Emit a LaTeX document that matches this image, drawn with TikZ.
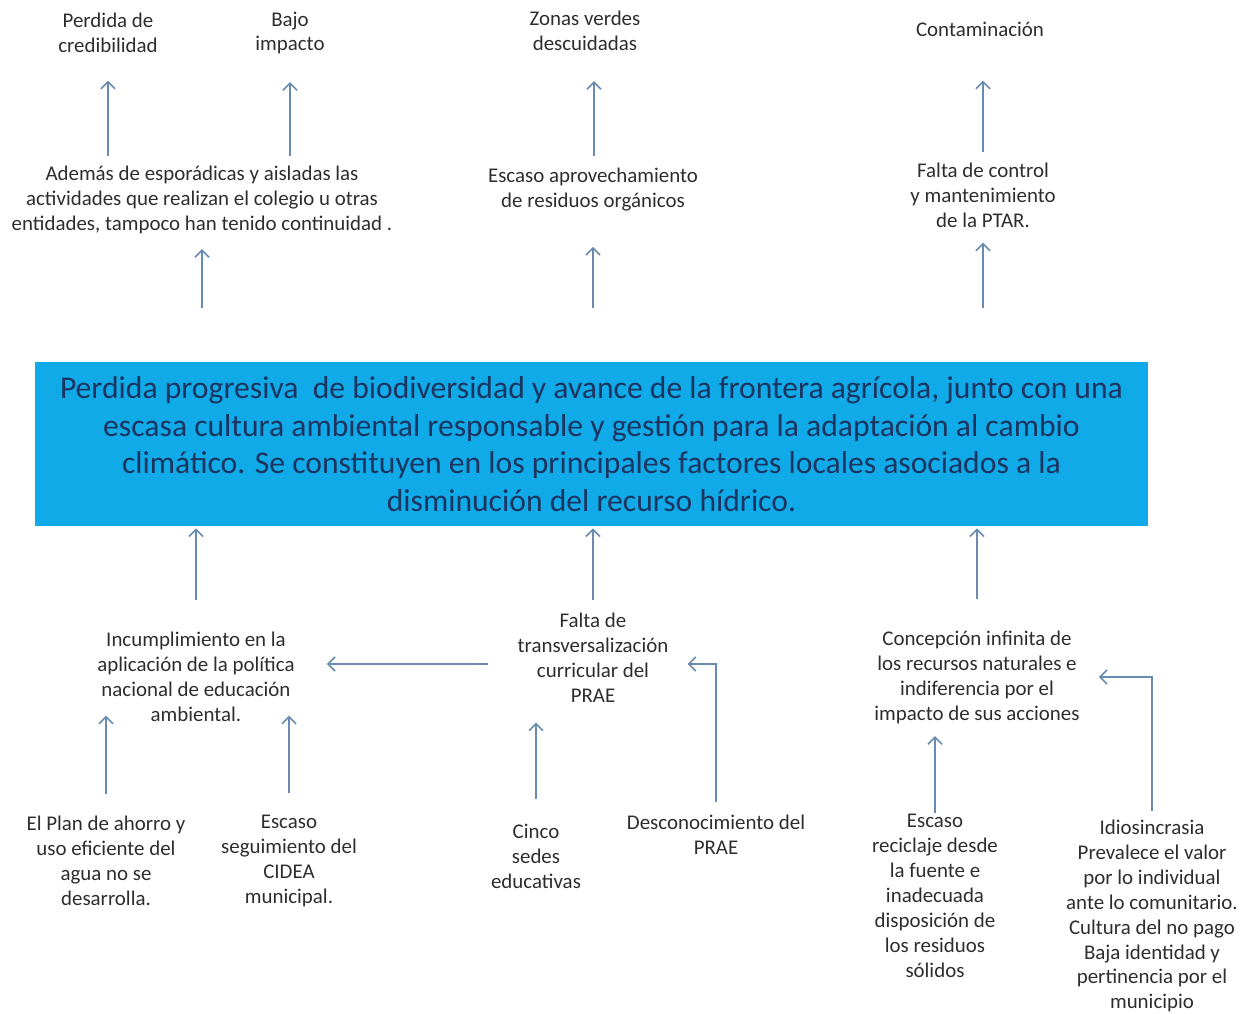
\documentclass[tikz,border=0pt]{standalone}
\usepackage{fontspec}
\setmainfont{Carlito}
\usetikzlibrary{arrows.meta}
\definecolor{boxblue}{RGB}{16,170,232}
\definecolor{boxtext}{RGB}{28,52,96}
\definecolor{arrowblue}{RGB}{106,139,176}
\definecolor{txtgray}{RGB}{45,45,45}
\begin{document}
\begin{tikzpicture}
				[x=0.02cm,y=-0.02cm,every node/.style={align=center,inner sep=0pt,text=txtgray,font=\fontsize{11.9}{14.2}\selectfont},
				edge/.style={arrowblue,line width=0.9pt,-{Straight Barb[length=4pt,width=8pt]}},
				bigbox/.style={fill=boxblue,text=boxtext,minimum width=22.26cm,minimum height=3.28cm,font=\fontsize{18}{21.4}\selectfont}]
				\useasboundingbox (0,0) rectangle (1254,1014);
				\node (n1) at (108,33)  {Perdida de\\credibilidad};
				\node (n2) at (290,33)  {Bajo\\impacto};
				\node (n3) at (585,31)  {Zonas verdes\\descuidadas};
				\node (n4) at (980,29)  {Contaminación};
				\node (n5) at (202,200) {Además de esporádicas y aisladas las\\actividades que realizan el colegio u otras\\entidades, tampoco han tenido continuidad .};
				\node (n6) at (593,190) {Escaso aprovechamiento\\de residuos orgánicos};
				\node (n7) at (983,195) {Falta de control\\y mantenimiento\\de la PTAR.};
				\node[bigbox] (b) at (591.5,444) {Perdida progresiva\ \ de biodiversidad y avance de la frontera agrícola, junto con una\\escasa cultura ambiental responsable y gestión para la adaptación al cambio\\climático. Se constituyen en los principales factores locales asociados a la\\disminución del recurso hídrico.};
				\node (m1) at (196,677) {Incumplimiento en la\\aplicación de la política\\nacional de educación\\ambiental.};
				\node (m2) at (593,658) {Falta de\\transversalización\\curricular del\\PRAE};
				\node (m3) at (977,677) {Concepción infinita de\\los recursos naturales e\\indiferencia por el\\impacto de sus acciones};
				\node (c1) at (106,861) {El Plan de ahorro y\\uso eficiente del\\agua no se\\desarrolla.};
				\node (c2) at (289,861) {Escaso\\seguimiento del\\CIDEA\\municipal.};
				\node (c3) at (536,856) {Cinco\\sedes\\educativas};
				\node (c4) at (716,835) {Desconocimiento del\\PRAE};
				\node (c5) at (935,896) {Escaso\\reciclaje desde\\la fuente e\\inadecuada\\disposición de\\los residuos\\sólidos};
				\node (c6) at (1152,916) {Idiosincrasia\\Prevalece el valor\\por lo individual\\ante lo comunitario.\\Cultura del no pago\\Baja identidad y\\pertinencia por el\\municipio};
				
				\draw[edge,shorten <=0.2cm,shorten >=0.55cm] (n5.north -| n1) -- (n1.south);
				\draw[edge,shorten <=0.2cm,shorten >=0.55cm] (n5.north -| n2) -- (n2.south);
				\draw[edge,shorten <=0.25cm,shorten >=0.6cm] ([xshift=0.02cm]n6.north) -- ([xshift=0.02cm]n6.north |- n3.south);
				\draw[edge,shorten <=0.2cm,shorten >=0.88cm] (n7.north) -- (n7.north |- n4.south);
				\draw[edge,shorten <=1.08cm,shorten >=0.3cm] (b.north -| n5) -- (n5.south);
				\draw[edge,shorten <=1.08cm,shorten >=0.7cm] (b.north -| n6) -- (n6.south);
				\draw[edge,shorten <=1.08cm,shorten >=0.3cm] (b.north -| n7) -- (n7.south);
				\draw[edge,shorten <=0.63cm,shorten >=0.04cm] (m1.north) -- (m1.north |- b.south);
				\draw[edge,shorten <=0.25cm,shorten >=0.04cm] (m2.north) -- (m2.north |- b.south);
				\draw[edge,shorten <=0.63cm,shorten >=0.04cm] (m3.north) -- (m3.north |- b.south);
				\draw[edge,shorten <=0.58cm,shorten >=0.64cm] ([yshift=-0.12cm]m2.west) -- ([yshift=-0.12cm]m2.west -| m1.east);
				\draw[edge,shorten <=0.43cm,shorten >=-0.13cm] (c1.north) -- (c1.north |- m1.south);
				\draw[edge,shorten <=0.43cm,shorten >=-0.13cm] (c2.north) -- (c2.north |- m1.south);
				\draw[edge,shorten <=0.48cm,shorten >=0.39cm] (c3.north) -- (c3.north |- m2.south);
				\draw[edge,shorten <=0.25cm,shorten >=0.38cm] (c4.north) |- ([yshift=-0.12cm]m2.east);
				\draw[edge,shorten <=0.02cm,shorten >=0.25cm] (c5.north) -- (c5.north |- m3.south);
				\draw[edge,shorten <=0.17cm,shorten >=0.38cm] (c6.north) |- (m3.east);
				\end{tikzpicture}
\end{document}
